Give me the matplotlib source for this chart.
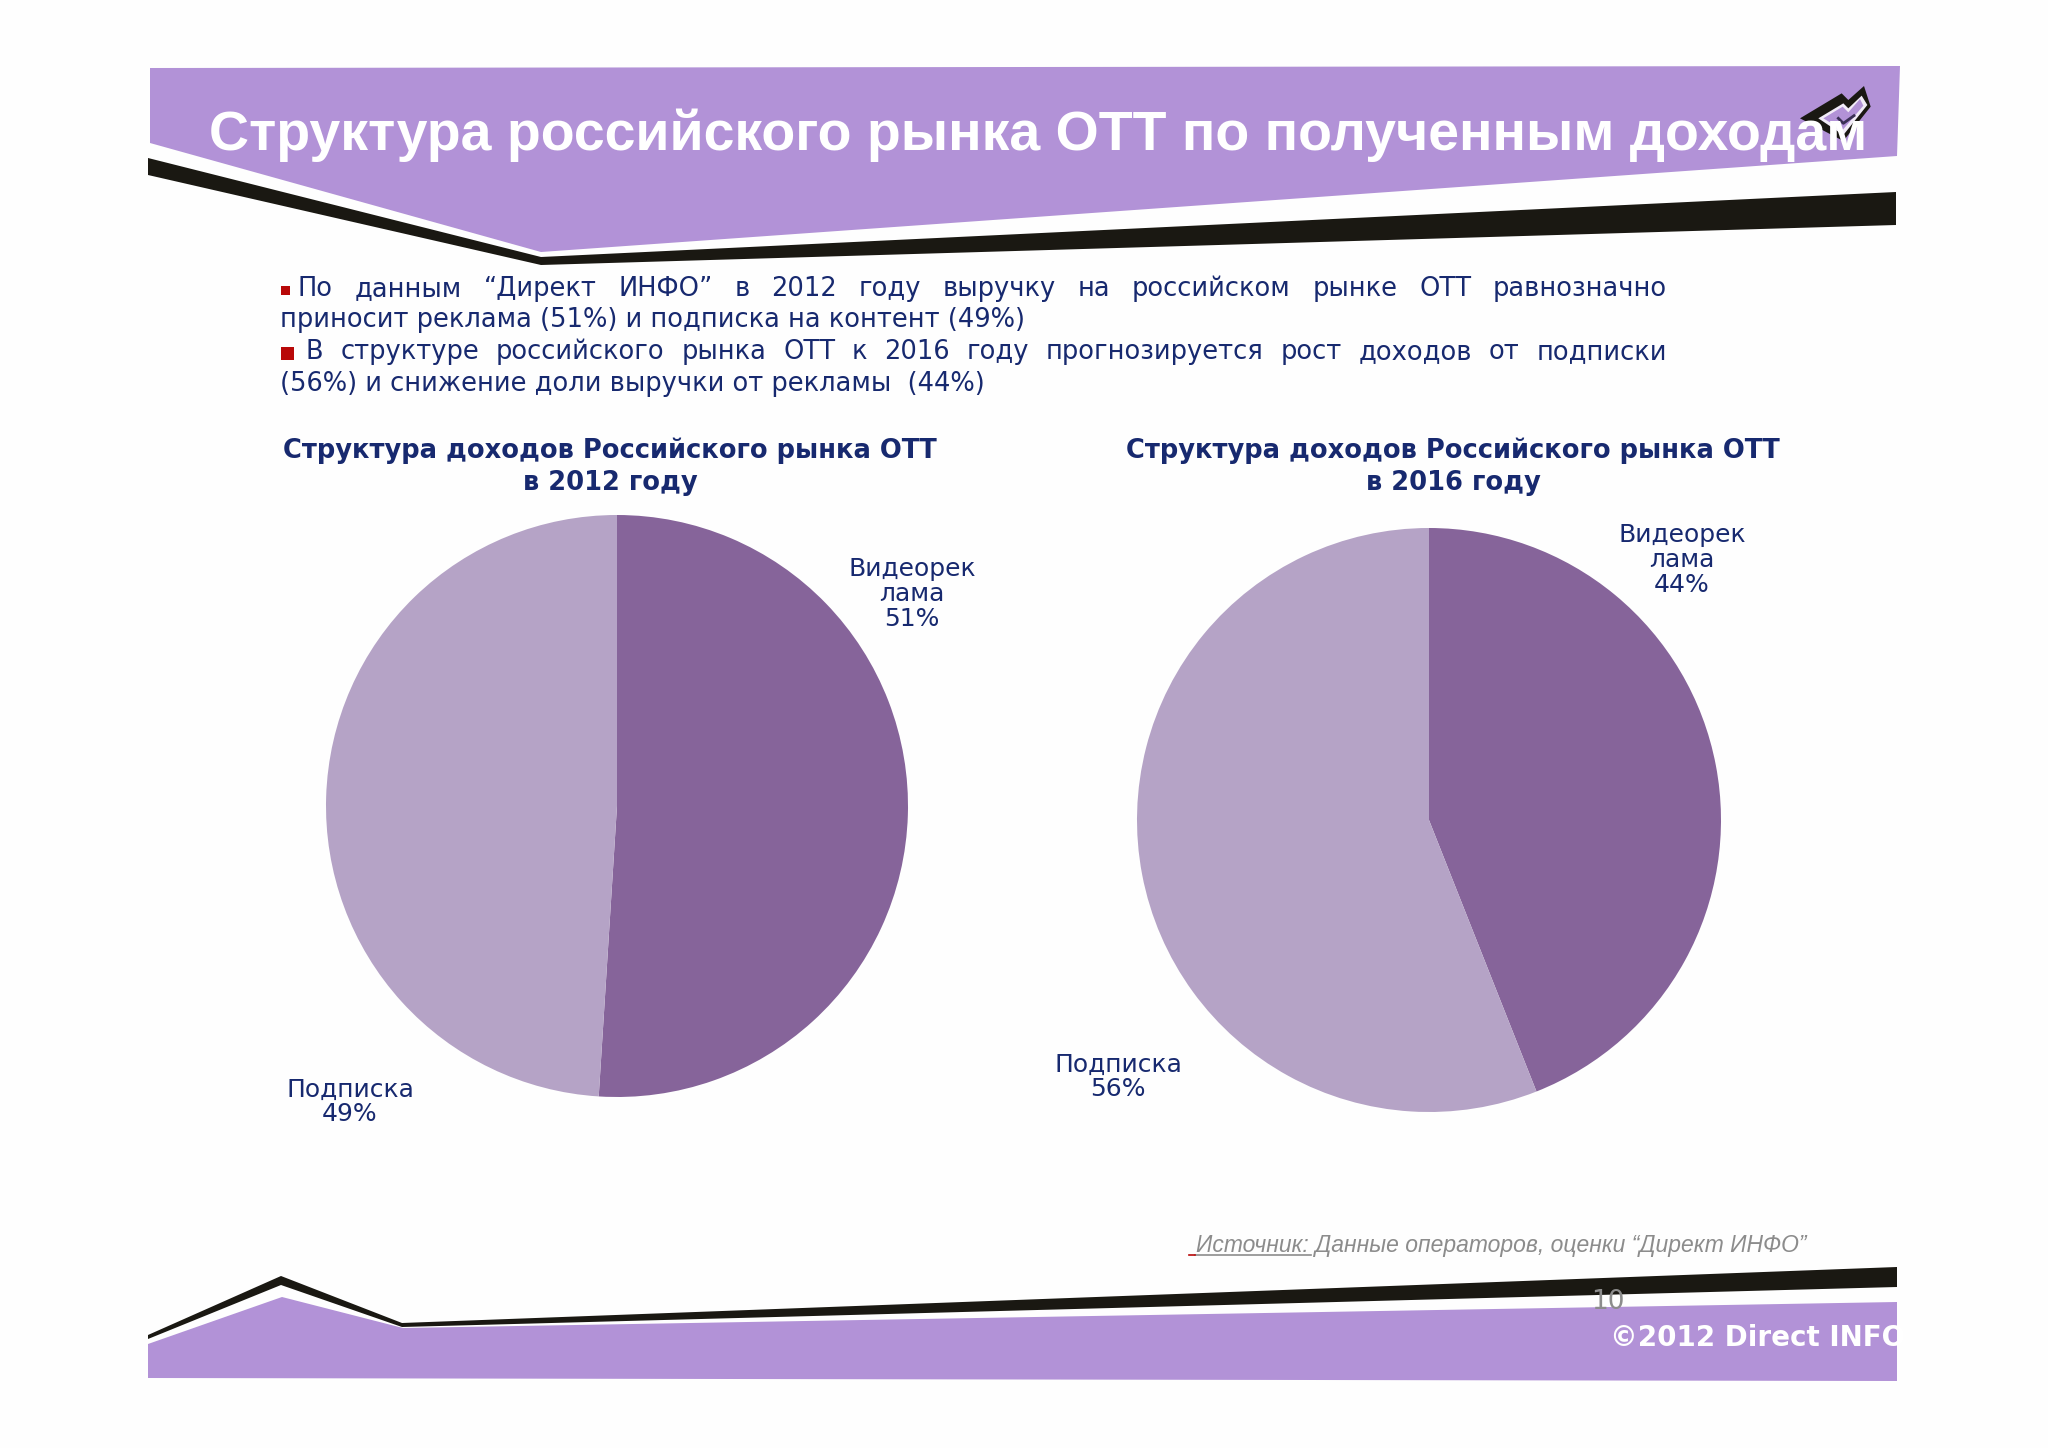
import matplotlib
matplotlib.use('Agg')
import matplotlib.pyplot as plt
from matplotlib.patches import Polygon, Rectangle

W, H = 2048, 1448
PURPLE = '#b292d7'
BLACK = '#1a1812'
NAVY = '#17296f'
RED = '#b80808'
GREY = '#8c8c8c'
DARK = '#86649a'
LIGHT = '#b5a3c6'

title = 'Структура российского рынка ОТТ по полученным доходам'
body_lines = [
    'По данным “Директ ИНФО” в 2012 году выручку на российском рынке ОТТ равнозначно',
    'приносит реклама (51%) и подписка на контент (49%)',
    'В структуре российского рынка ОТТ к 2016 году прогнозируется рост доходов от подписки',
    '(56%) и снижение доли выручки от рекламы  (44%)',
]
pie_titles = ['Структура доходов Российского рынка ОТТ\nв 2012 году',
              'Структура доходов Российского рынка ОТТ\nв 2016 году']
labels_2012 = ['Видеорек\nлама\n51%', 'Подписка\n49%']
labels_2016 = ['Видеорек\nлама\n44%', 'Подписка\n56%']
values_2012 = [51, 49]
values_2016 = [44, 56]

fig = plt.figure(figsize=(W / 100, H / 100), dpi=100, facecolor='#fefefe')

# page layer in pixel coordinates
bg = fig.add_axes([0, 0, 1, 1])
bg.set_xlim(0, W)
bg.set_ylim(H, 0)
bg.axis('off')


def poly(pts, color):
    bg.add_patch(Polygon(pts, closed=True, fc=color, ec='none'))


# header
poly([(150, 68), (1900, 66), (1897, 156), (541, 252), (150, 143)], PURPLE)
poly([(148, 158), (541, 257), (1896, 192), (1896, 225), (541, 265), (148, 175)], BLACK)

# logo
lx, ly = 1780, 75
poly([(lx + x / 3, ly + y / 3) for x, y in
      [(60, 130), (185, 55), (205, 75), (252, 33), (272, 95), (190, 198)]], BLACK)
poly([(lx + x / 3, ly + y / 3) for x, y in
      [(115, 130), (190, 85), (205, 100), (245, 62), (262, 90), (190, 180)]], '#f2ecf8')
poly([(lx + x / 3, ly + y / 3) for x, y in
      [(130, 130), (188, 95), (205, 112), (240, 72), (250, 92), (188, 165)]], PURPLE)
bg.plot([lx + 175 / 3, lx + 190 / 3, lx + 222 / 3], [ly + 130 / 3, ly + 145 / 3, ly + 122 / 3],
        color='#3a2f55', lw=2)

# footer
poly([(148, 1335), (281, 1276), (402, 1323), (1897, 1267), (1897, 1287), (402, 1327), (281, 1285), (148, 1339)], BLACK)
poly([(148, 1344), (282, 1297), (403, 1328), (1897, 1302), (1897, 1381), (148, 1378)], PURPLE)

bg.text(209, 150, title, family=['Liberation Sans Narrow', 'Liberation Sans'], weight='bold',
        fontsize=40, color='white', va='baseline')
bg.text(1608, 1302, '10', fontsize=19, color=GREY, ha='center', va='center')
bg.text(1610, 1346, '©2012 Direct INFO', fontsize=20, weight='bold', color='white', va='baseline')

# source line
bg.text(1196, 1252, 'Источник: Данные операторов, оценки “Директ ИНФО”',
        family='Liberation Sans', style='italic', fontsize=16.5, color=GREY, va='baseline')
bg.plot([1195, 1311], [1255, 1255], color=GREY, lw=1.2)
bg.plot([1189, 1195], [1255, 1255], color=RED, lw=1.2)

# bullets
bg.add_patch(Rectangle((281, 286), 9, 9, fc=RED, ec='none'))
bg.add_patch(Rectangle((281, 347), 13, 13, fc=RED, ec='none'))

# body text, justified lines are placed word by word
BODY_SIZE = 18.5
renderer = fig.canvas.get_renderer()


def justified(line, x0, x1, y):
    words = line.split(' ')
    items = [bg.text(x0, y, w, fontsize=BODY_SIZE, color=NAVY, va='baseline') for w in words]
    widths = [t.get_window_extent(renderer).width for t in items]
    gap = (x1 - x0 - sum(widths)) / (len(words) - 1)
    x = x0
    for t, w in zip(items, widths):
        t.set_x(x)
        x += w + gap


justified(body_lines[0], 298, 1667, 296)
bg.text(280, 327, body_lines[1], fontsize=BODY_SIZE, color=NAVY, va='baseline')
justified(body_lines[2], 306, 1667, 359)
bg.text(280, 391, body_lines[3], fontsize=BODY_SIZE, color=NAVY, va='baseline')


def draw_pie(cx, cy, r, values):
    ax = fig.add_axes([(cx - r) / W, 1 - (cy + r) / H, 2 * r / W, 2 * r / H])
    ax.pie(values, colors=[DARK, LIGHT], startangle=90, counterclock=False, radius=1,
           wedgeprops={'linewidth': 0})
    ax.set_xlim(-1, 1)
    ax.set_ylim(-1, 1)


draw_pie(617, 806, 291, values_2012)
draw_pie(1429, 820, 292, values_2016)

# pie titles
for x, txt in zip([610, 1453], pie_titles):
    top, bottom = txt.split('\n')
    bg.text(x, 458, top, fontsize=BODY_SIZE, weight='bold', color=NAVY, ha='center', va='baseline')
    bg.text(x, 490, bottom, fontsize=BODY_SIZE, weight='bold', color=NAVY, ha='center', va='baseline')

# pie labels
for x, y, txt in [(912, 594, labels_2012[0]), (350, 1102, labels_2012[1]),
                  (1682, 560, labels_2016[0]), (1118, 1077, labels_2016[1])]:
    bg.text(x, y, txt, fontsize=18, color=NAVY, ha='center', va='center', linespacing=1.05)

fig.savefig('out.png', dpi=100, facecolor=fig.get_facecolor())
